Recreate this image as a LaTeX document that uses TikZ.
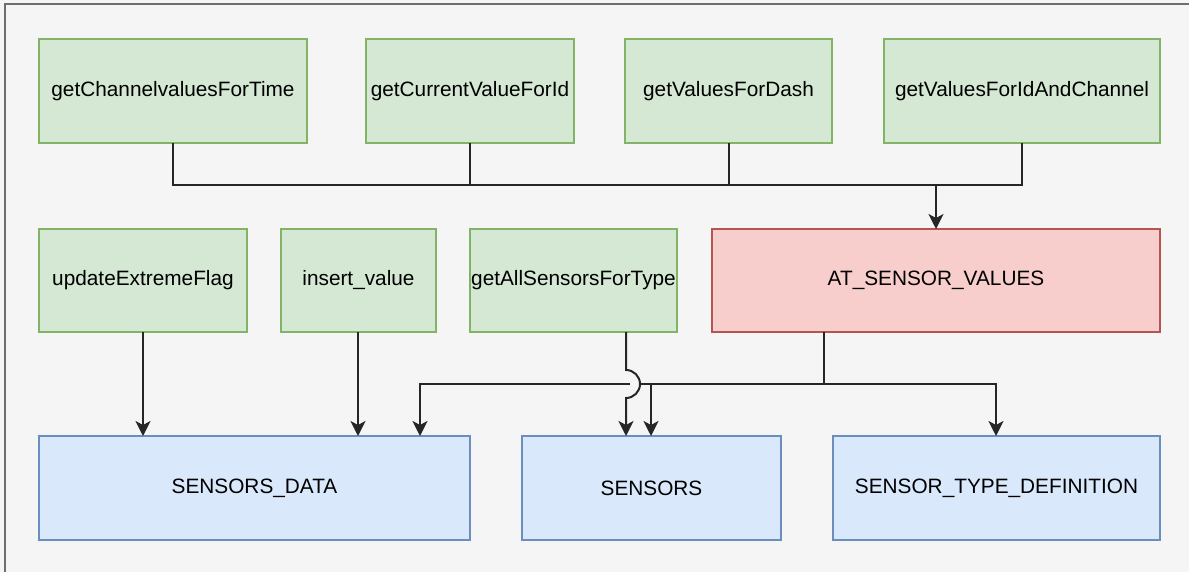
\documentclass[tikz,border=0pt]{standalone}
\usepackage{fontspec}
\setmainfont{Liberation Sans}
\usetikzlibrary{arrows.meta}
\definecolor{canvas}{HTML}{F5F5F5}
\definecolor{frameline}{HTML}{6E6E6E}
\definecolor{gfill}{HTML}{D5E8D4}
\definecolor{gline}{HTML}{82B366}
\definecolor{rfill}{HTML}{F8CECC}
\definecolor{rline}{HTML}{B85450}
\definecolor{bfill}{HTML}{DAE8FC}
\definecolor{bline}{HTML}{6C8EBF}
\tikzset{
  box/.style={rectangle, line width=1.5pt, inner sep=0pt, outer sep=0pt,
    font=\fontsize{20.8}{24}\selectfont, text=black},
  gbox/.style={box, fill=gfill, draw=gline},
  rbox/.style={box, fill=rfill, draw=rline},
  bbox/.style={box, fill=bfill, draw=bline},
  wire/.style={line width=2pt, draw=black!85},
  arr/.style={wire, -{Stealth[length=15pt, width=15pt, inset=4pt]}},
}
\begin{document}
\begin{tikzpicture}[x=1pt, y=-1pt]
  % canvas and frame
  \fill[canvas] (0,0) rectangle (1189,572);
  \useasboundingbox (0,0) rectangle (1189,572);
  \draw[frameline, line width=2pt] (4.5,572) -- (4.5,4.5) -- (1189,4.5);

  % top row of functions
  \node[gbox, minimum width=268pt, minimum height=104pt] (f1) at (173,91) {getChannelvaluesForTime};
  \node[gbox, minimum width=208pt, minimum height=104pt] (f2) at (470,91) {getCurrentValueForId};
  \node[gbox, minimum width=207pt, minimum height=104pt] (f3) at (728.5,91) {getValuesForDash};
  \node[gbox, minimum width=276pt, minimum height=104pt] (f4) at (1022,91) {getValuesForIdAndChannel};

  % middle row
  \node[gbox, minimum width=208pt, minimum height=103pt] (m1) at (143,280.5) {updateExtremeFlag};
  \node[gbox, minimum width=155pt, minimum height=103pt] (m2) at (358.5,280.5) {insert\_value};
  \node[gbox, minimum width=207pt, minimum height=103pt] (m3) at (573.5,280.5) {getAllSensorsForType};
  \node[rbox, minimum width=448pt, minimum height=103pt] (at) at (936,280.5) {AT\_SENSOR\_VALUES};

  % tables
  \node[bbox, minimum width=431pt, minimum height=104pt] (t1) at (254.5,488) {SENSORS\_DATA};
  \node[bbox, minimum width=259pt, minimum height=104pt] (t2) at (651.5,488) {SENSORS};
  \node[bbox, minimum width=327pt, minimum height=104pt] (t3) at (996.5,488) {SENSOR\_TYPE\_DEFINITION};

  % bus from the top functions into AT_SENSOR_VALUES
  \coordinate (bus) at (0,185);
  \draw[wire] (f1.south) -- (f1.south |- bus) -- (f4.south |- bus) -- (f4.south);
  \draw[wire] (f2.south) -- (f2.south |- bus);
  \draw[wire] (f3.south -| 729,0) -- (729,185);
  \draw[arr] (at.north |- bus) -- (at.north);

  % middle functions into SENSORS_DATA
  \draw[arr] (m1.south) -- (m1.south |- t1.north);
  \draw[arr] (m2.south -| 358,0) -- (t1.north -| 358,0);

  % AT_SENSOR_VALUES fan-out
  \coordinate (split) at (824,384);
  \coordinate (jl) at (630,384);
  \coordinate (jr) at (641,384);
  \draw[wire] (at.south -| split) -- (split);
  \draw[arr] (split) -- (jr) (jl) -| (t1.north -| 420,0);
  \draw[arr] (split) -| (t2.north -| 651,0);
  \draw[arr] (split) -| (t3.north -| 996,0);

  % getAllSensorsForType into SENSORS, hopping over the line
  \draw[arr] (m3.south -| 626,0) -- (626,370) arc[start angle=90, end angle=-90, radius=14pt] -- (t2.north -| 626,0);
\end{tikzpicture}
\end{document}
